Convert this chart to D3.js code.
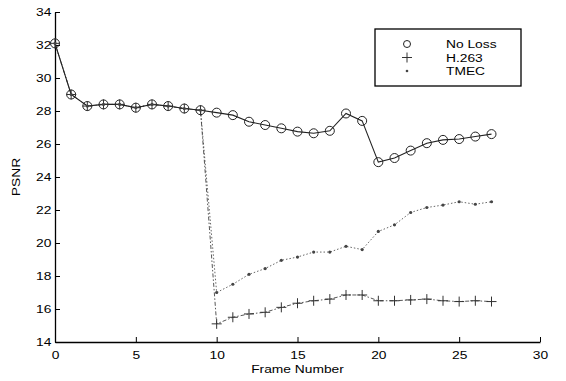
<!DOCTYPE html>
<html>
<head>
<meta charset="utf-8">
<script src="https://cdn.jsdelivr.net/npm/d3@7"></script>
<style>
  body { margin: 0; background: #fff; }
  text { font-family: Arial, "Liberation Sans", sans-serif; fill: #000; }
</style>
</head>
<body>
<div id="chart"></div>
<script>
// ---------------- data ----------------
let frames = d3.range(0, 28)
let noLoss = [32.1, 29.0, 28.3, 28.4, 28.4, 28.2, 28.4, 28.3, 28.15, 28.05,
  27.9, 27.75, 27.35, 27.15, 26.95, 26.75, 26.65, 26.8, 27.85, 27.4,
  24.9, 25.15, 25.6, 26.05, 26.25, 26.3, 26.45, 26.6]
let h263 = [32.1, 29.0, 28.3, 28.4, 28.4, 28.2, 28.4, 28.3, 28.15, 28.05,
  15.1, 15.5, 15.7, 15.8, 16.1, 16.35, 16.5, 16.6, 16.85, 16.85,
  16.5, 16.5, 16.55, 16.6, 16.5, 16.45, 16.5, 16.45]
let tmec = [32.1, 29.0, 28.3, 28.4, 28.4, 28.2, 28.4, 28.3, 28.15, 28.05,
  17.0, 17.5, 18.1, 18.45, 18.95, 19.15, 19.45, 19.45, 19.8, 19.6,
  20.7, 21.1, 21.85, 22.15, 22.3, 22.5, 22.35, 22.5]
let xTicks = [0, 5, 10, 15, 20, 25, 30]
let yTicks = [14, 16, 18, 20, 22, 24, 26, 28, 30, 32, 34]
let legendNames = ['No Loss', 'H.263', 'TMEC']

// ---------------- canvas ----------------
let w = 566, h = 381
let padding = {top: 12, right: 26, bottom: 39, left: 55}
let stretch = 1.2 // text in the picture is a bit wider than tall

let svg = d3.select('#chart').append('svg')
  .attr('width', w)
  .attr('height', h)

let xScale = d3.scaleLinear().domain([0, 30]).range([padding.left, w - padding.right])
let yScale = d3.scaleLinear().domain([14, 34]).range([h - padding.bottom, padding.top])

// axes, ticks pointing inward like matlab
let xAxis = d3.axisBottom(xScale).tickValues(xTicks).tickSizeInner(-5).tickSizeOuter(0).tickPadding(9)
let yAxis = d3.axisLeft(yScale).tickValues(yTicks).tickSizeInner(-5).tickSizeOuter(0).tickPadding(3)

let gx = svg.append('g')
  .attr('transform', 'translate(0,' + yScale(14) + ')')
  .call(xAxis)
let gy = svg.append('g')
  .attr('transform', 'translate(' + xScale(0) + ',0)')
  .call(yAxis)

;[gx, gy].forEach(function (g) {
  g.select('.domain').attr('stroke', '#000').attr('stroke-width', 1.3)
  g.selectAll('.tick line').attr('stroke', '#000')
  g.selectAll('.tick text')
    .attr('font-size', 11.5)
    .attr('font-family', 'Arial, "Liberation Sans", sans-serif')
    .attr('transform', 'scale(' + stretch + ',1)')
})

svg.append('text')
  .text('Frame Number')
  .attr('transform', 'translate(' + xScale(15) + ',373) scale(' + stretch + ',1)')
  .attr('text-anchor', 'middle')
  .attr('font-size', 11.5)

svg.append('text')
  .text('PSNR')
  .attr('transform', 'translate(20,' + yScale(24) + ') rotate(-90) scale(' + stretch + ',1)')
  .attr('text-anchor', 'middle')
  .attr('font-size', 11.5)

// ---------------- lines ----------------
let line = d3.line()
  .x(function (d, i) { return xScale(frames[i]) })
  .y(function (d) { return yScale(d) })

svg.append('path')
  .datum(tmec)
  .attr('d', line)
  .attr('fill', 'none')
  .attr('stroke', '#555')
  .attr('stroke-width', 0.9)
  .attr('stroke-dasharray', '1.5,2')

svg.append('path')
  .datum(h263)
  .attr('d', line)
  .attr('fill', 'none')
  .attr('stroke', '#444')
  .attr('stroke-width', 0.9)
  .attr('stroke-dasharray', '4,2,1.5,2')

svg.append('path')
  .datum(noLoss)
  .attr('d', line)
  .attr('fill', 'none')
  .attr('stroke', '#222')
  .attr('stroke-width', 1.1)

// ---------------- markers ----------------
svg.append('g').selectAll('circle')
  .data(noLoss)
  .enter()
  .append('circle')
  .attr('cx', function (d, i) { return xScale(frames[i]) })
  .attr('cy', function (d) { return yScale(d) })
  .attr('r', 4.5)
  .attr('fill', 'none')
  .attr('stroke', '#222')
  .attr('stroke-width', 1)

svg.append('g').selectAll('path')
  .data(h263)
  .enter()
  .append('path')
  .attr('d', 'M-5,0H5M0,-5V5')
  .attr('transform', function (d, i) {
    return 'translate(' + xScale(frames[i]) + ',' + yScale(d) + ')'
  })
  .attr('stroke', '#333')
  .attr('stroke-width', 1)

svg.append('g').selectAll('circle')
  .data(tmec)
  .enter()
  .append('circle')
  .attr('cx', function (d, i) { return xScale(frames[i]) })
  .attr('cy', function (d) { return yScale(d) })
  .attr('r', 1.6)
  .attr('fill', '#444')

// ---------------- legend ----------------
let legend = svg.append('g')
legend.append('rect')
  .attr('x', 375)
  .attr('y', 29)
  .attr('width', 146)
  .attr('height', 57)
  .attr('fill', '#fff')
  .attr('stroke', '#000')
  .attr('stroke-width', 1.3)

let rows = legend.selectAll('g.row')
  .data(legendNames)
  .enter()
  .append('g')
  .attr('class', 'row')
  .attr('transform', function (d, i) { return 'translate(0,' + (44 + i * 13.5) + ')' })

rows.append('text')
  .text(function (d) { return d })
  .attr('transform', 'translate(446,4) scale(' + stretch + ',1)')
  .attr('font-size', 11.5)

rows.each(function (d, i) {
  let g = d3.select(this)
  if (i === 0) {
    g.append('circle').attr('cx', 407).attr('cy', 0).attr('r', 3.5)
      .attr('fill', 'none').attr('stroke', '#222')
  } else if (i === 1) {
    g.append('path').attr('d', 'M402,0H412M407,-5V5').attr('stroke', '#333')
  } else {
    g.append('circle').attr('cx', 407).attr('cy', 0).attr('r', 1.3).attr('fill', '#444')
  }
})
</script>
</body>
</html>
